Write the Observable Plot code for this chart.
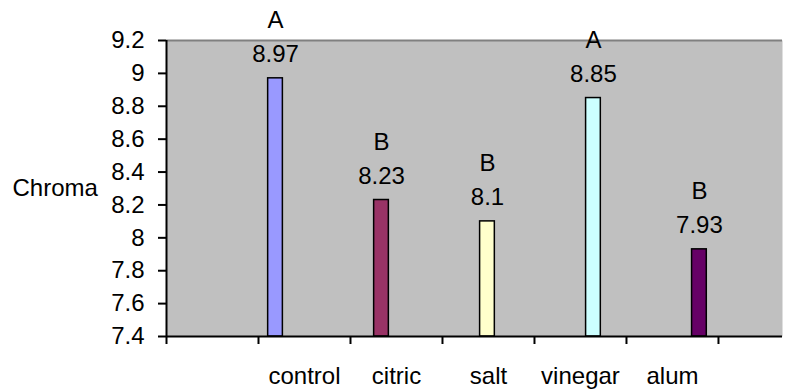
<!DOCTYPE html>
<html>
<head>
<meta charset="utf-8">
<script src="https://cdn.jsdelivr.net/npm/d3@7"></script>
<script src="https://cdn.jsdelivr.net/npm/@observablehq/plot@0.6"></script>
<style>
  html, body { margin: 0; padding: 0; background: #fff; }
</style>
</head>
<body>
<div id="chart"></div>
<script>
// ---- data ----
const categories = ["control", "citric", "salt", "vinegar", "alum"];
const chroma = [8.97, 8.23, 8.1, 8.85, 7.93];
const groups = ["A", "B", "B", "A", "B"];
const barColors = ["#9999FF", "#993366", "#FFFFCC", "#CCFFFF", "#660066"];
const yTicks = [7.4, 7.6, 7.8, 8, 8.2, 8.4, 8.6, 8.8, 9, 9.2];
const yLabel = "Chroma";

// ---- layout (x in category-label slots) ----
const xDomain = [-1.5, 5.196];
const barOffset = -0.315;   // bars sit on a slightly wider pitch than the labels
const barStep = 1.152;
const barHalf = 0.08;
const yDomain = [7.4, 9.2];

const data = categories.map((c, i) => ({
  cat: c, value: chroma[i], group: groups[i], color: barColors[i],
  pos: barOffset + barStep * i
}));

const font = "'Liberation Sans', Arial, sans-serif";
const fs = 24;

const chart = Plot.plot({
  width: 804,
  height: 390,
  marginLeft: 166,
  marginRight: 22,
  marginTop: 40,
  marginBottom: 54,
  style: { fontFamily: font, fontSize: fs + "px", color: "#000", background: "#fff" },
  x: { domain: xDomain, axis: null, label: null },
  y: { domain: yDomain, axis: null, label: null },
  marks: [
    Plot.frame({ fill: "#C0C0C0", stroke: null }),
    Plot.ruleY([yDomain[1]], { stroke: "#808080", strokeWidth: 2 }),
    Plot.rect(data, {
      x1: d => d.pos - barHalf, x2: d => d.pos + barHalf,
      y1: yDomain[0], y2: "value",
      fill: "color", stroke: "#000", strokeWidth: 1.5
    }),
    Plot.ruleY([yDomain[0]], { stroke: "#000", strokeWidth: 2 }),
    Plot.ruleX([xDomain[0]], { stroke: "#000", strokeWidth: 2 }),
    Plot.axisY(yTicks, {
      label: null, tickSize: 8, tickPadding: 14, tickFormat: d => String(d),
      stroke: "#000", strokeWidth: 2, fontSize: fs, fill: "#000"
    }),
    Plot.axisX(d3.range(xDomain[0], 5, 1), {
      label: null, tickSize: 8, tickFormat: () => "", stroke: "#000", strokeWidth: 2
    }),
    Plot.axisX(d3.range(categories.length), {
      label: null, tickSize: 0, tickPadding: 30, tickFormat: i => categories[i],
      fontSize: fs, fill: "#000"
    }),
    Plot.text(data, {
      x: "pos", y: "value", text: d => String(d.value),
      dy: -24, fontSize: fs, fill: "#000"
    }),
    Plot.text(data, {
      x: "pos", y: "value", text: "group",
      dy: -58, fontSize: fs, fill: "#000"
    }),
    Plot.text([yLabel], {
      frameAnchor: "left", dx: -154, textAnchor: "start",
      fontSize: fs, fill: "#000"
    })
  ]
});

document.getElementById("chart").appendChild(chart);
</script>
</body>
</html>
